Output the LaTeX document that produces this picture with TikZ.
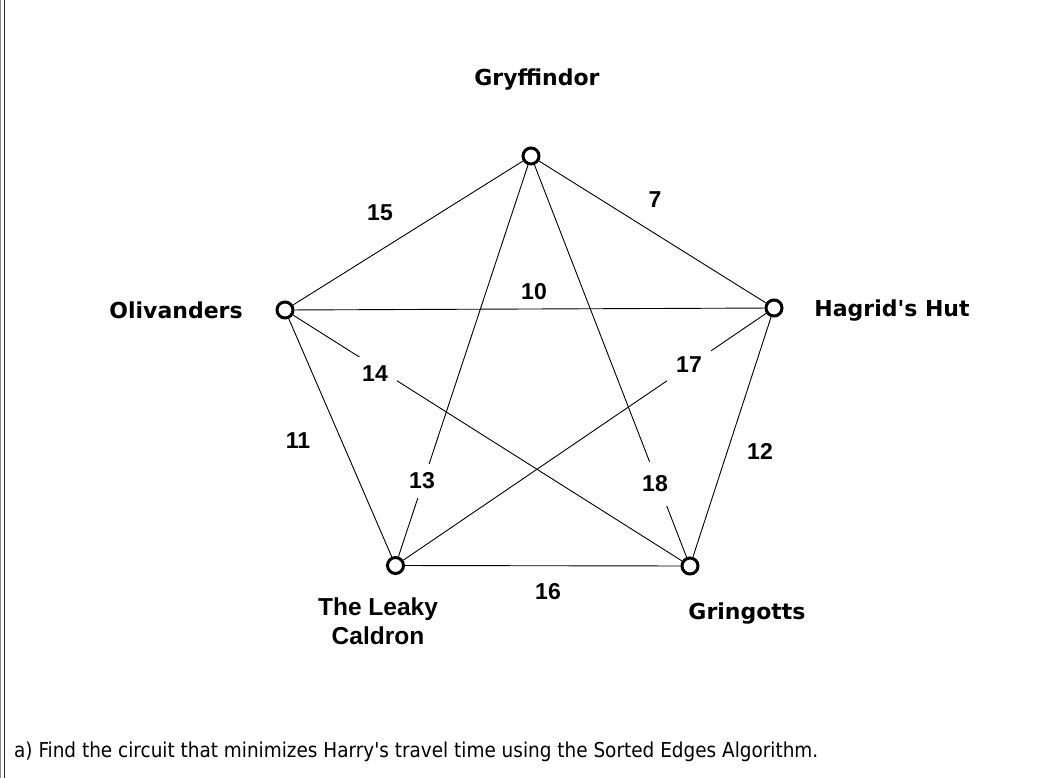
\documentclass[tikz,border=0pt]{standalone}
\usepackage{fontspec}
\newfontfamily\tah{DejaVu Sans}
\newfontfamily\tahc{DejaVu Sans Condensed}
\newfontfamily\ari{Liberation Sans}
\begin{document}
\begin{tikzpicture}[x=1pt,y=-1pt,
  vtx/.style={circle,draw=black,line width=3pt,fill=white,minimum size=16pt,inner sep=0pt},
  edge/.style={line width=0.9pt,black},
  wlab/.style={fill=white,inner sep=9pt,font=\ari\bfseries\fontsize{23}{23}\selectfont},
  plab/.style={inner sep=0pt,font=\ari\bfseries\fontsize{23}{23}\selectfont},
  vname/.style={font=\tah\bfseries\fontsize{22}{22}\selectfont,inner sep=0pt},
  aname/.style={font=\ari\bfseries\fontsize{24.5}{29}\selectfont,inner sep=0pt,align=center},
]
\useasboundingbox (0,0) rectangle (1054,778);
\fill[white] (0,0) rectangle (1054,778);
% left double border
\draw[black!45,line width=1pt] (0.5,0) -- (0.5,778);
\draw[black!85,line width=1.3pt] (4.6,0) -- (4.6,778);

% vertices
\node[vtx] (G) at (531,156) {};
\node[vtx] (O) at (285,310) {};
\node[vtx] (H) at (774,308) {};
\node[vtx] (L) at (395.5,565.5) {};
\node[vtx] (R) at (690,566) {};

% edges
\draw[edge] (O) -- (G);
\draw[edge] (G) -- (H);
\draw[edge] (O) -- (H);
\draw[edge] (O) -- (R);
\draw[edge] (L) -- (H);
\draw[edge] (O) -- (L);
\draw[edge] (H) -- (R);
\draw[edge] (G) -- (L);
\draw[edge] (G) -- (R);
\draw[edge] (L) -- (R);

% edge labels
\node[plab] (l15) at (380,213) {15};
\node[plab] (l7) at (655,200) {7};
\node[plab] (l10) at (534,292) {10};
\node[wlab] (l14) at (375,374) {14};
\node[wlab] (l17) at (689,365) {17};
\node[plab] (l11) at (298,441) {11};
\node[wlab] (l13) at (422,481) {13};
\node[wlab,inner ysep=14pt] (l18) at (655,484) {18};
\node[plab] (l12) at (760,451) {12};
\node[plab] (l16) at (548,592) {16};

% vertex names
\node[vname] (nG) at (537,80) {Gryffindor};
\node[vname] (nO) at (176,310) {Olivanders};
\node[vname] (nH) at (892,311) {Hagrid's Hut};
\node[aname] (nL) at (378,621) {The Leaky\\Caldron};
\node[vname] (nR) at (747,614) {Gringotts};

% question text
\node[anchor=base west,inner sep=0pt,font=\tahc\fontsize{20.5}{20.5}\selectfont] (q) at (14,757)
  {a) Find the circuit that minimizes Harry's travel time using the Sorted Edges Algorithm.};
\end{tikzpicture}
\end{document}
